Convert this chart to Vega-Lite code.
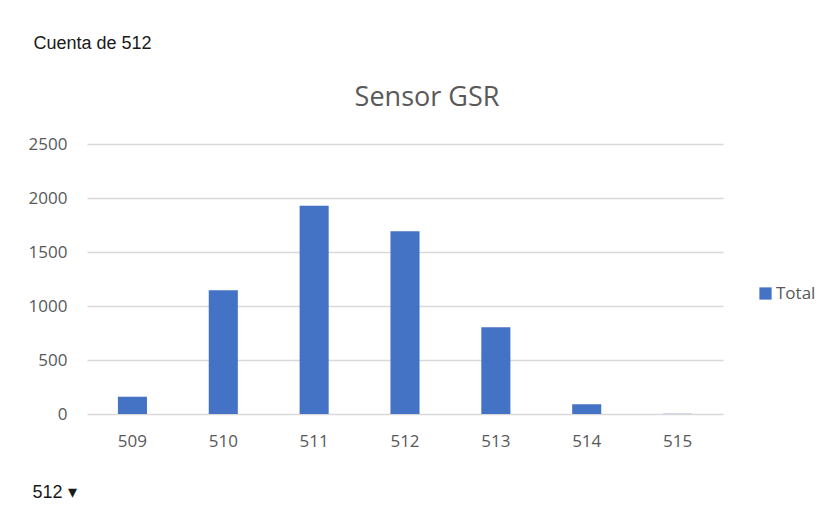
{
  "$schema": "https://vega.github.io/schema/vega-lite/v6.json",
  "width": 636,
  "height": 270,
  "autosize": {"type": "none"},
  "padding": {"left": 87, "top": 144, "right": 110, "bottom": 94},
  "background": "white",
  "title": {
    "text": "Sensor GSR",
    "font": "Open Sans",
    "fontSize": 27,
    "fontWeight": "normal",
    "color": "#595959",
    "anchor": "middle",
    "frame": "group",
    "baseline": "alphabetic",
    "dx": 22,
    "dy": 137,
    "offset": 38
  },
  "data": {
    "values": [
      {"valor": "509", "serie": "Total", "cuenta": 160},
      {"valor": "510", "serie": "Total", "cuenta": 1145},
      {"valor": "511", "serie": "Total", "cuenta": 1929},
      {"valor": "512", "serie": "Total", "cuenta": 1691},
      {"valor": "513", "serie": "Total", "cuenta": 803},
      {"valor": "514", "serie": "Total", "cuenta": 90},
      {"valor": "515", "serie": "Total", "cuenta": 2}
    ]
  },
  "mark": {"type": "bar", "color": "#4472C4"},
  "encoding": {
    "x": {
      "field": "valor",
      "type": "ordinal",
      "scale": {"paddingInner": 0.68, "paddingOuter": 0.34},
      "axis": {
        "title": "512  ▾",
        "titleFont": "Liberation Sans",
        "titleFontSize": 18,
        "titleFontWeight": "normal",
        "titleColor": "#1a1a1a",
        "titleAlign": "left",
        "titleBaseline": "alphabetic",
        "titleAnchor": "start",
        "titleX": -55,
        "titleY": 83,
        "labelAngle": 0,
        "labelFont": "Open Sans",
        "labelFontSize": 17,
        "labelColor": "#595959",
        "labelPadding": 19,
        "ticks": false,
        "domain": false
      }
    },
    "y": {
      "field": "cuenta",
      "type": "quantitative",
      "scale": {"domain": [0, 2500]},
      "axis": {
        "title": "Cuenta de 512",
        "titleFont": "Liberation Sans",
        "titleFontSize": 18,
        "titleFontWeight": "normal",
        "titleColor": "#1a1a1a",
        "titleAngle": 0,
        "titleAlign": "left",
        "titleBaseline": "alphabetic",
        "titleAnchor": "start",
        "titleX": -54,
        "titleY": -96,
        "values": [0, 500, 1000, 1500, 2000, 2500],
        "format": "d",
        "labelFont": "Open Sans",
        "labelFontSize": 17,
        "labelColor": "#595959",
        "labelPadding": 20,
        "ticks": false,
        "domain": false,
        "grid": true,
        "gridColor": "#d9d9d9",
        "gridWidth": 1.5
      }
    },
    "fill": {
      "field": "serie",
      "type": "nominal",
      "scale": {"range": ["#4472C4"]},
      "legend": {
        "title": null,
        "orient": "none",
        "legendX": 670,
        "legendY": 141,
        "padding": 0,
        "symbolType": "square",
        "symbolSize": 150,
        "symbolStrokeWidth": 0,
        "labelFont": "Open Sans",
        "labelFontSize": 17,
        "labelColor": "#595959",
        "labelOffset": 2
      }
    }
  },
  "config": {"view": {"stroke": null}}
}
